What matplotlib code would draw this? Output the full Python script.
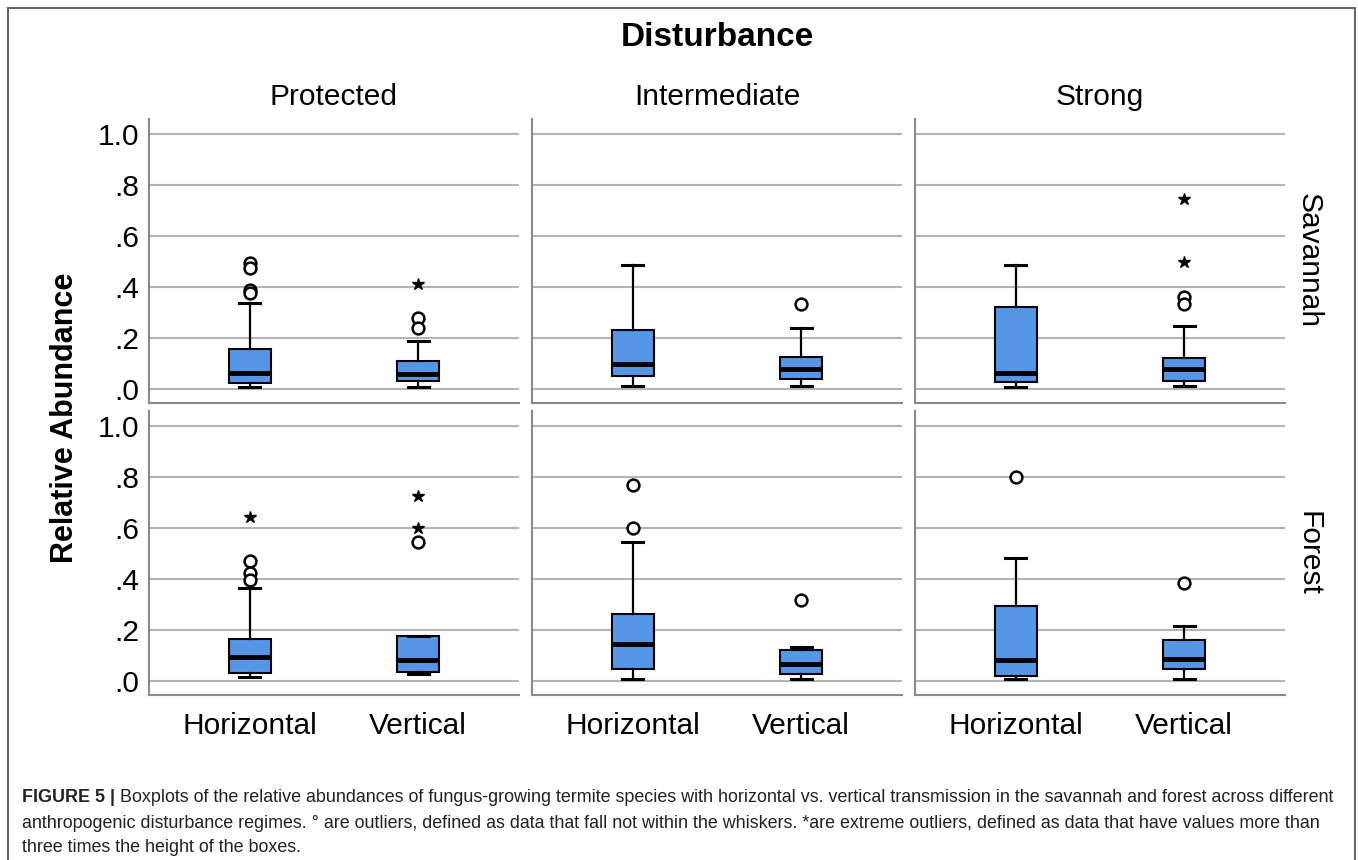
import matplotlib
matplotlib.use('Agg')
import matplotlib.pyplot as plt
from matplotlib.patches import Rectangle

plt.rcParams['font.family'] = ['Liberation Sans', 'DejaVu Sans']

groups = ['Horizontal', 'Vertical']
disturbance = ['Protected', 'Intermediate', 'Strong']
habitats = ['Savannah', 'Forest']

# [habitat][disturbance][group]
whislo = [[[0.005, 0.005], [0.009, 0.012], [0.008, 0.010]],
          [[0.014, 0.026], [0.008, 0.008], [0.007, 0.007]]]
q1 = [[[0.021, 0.030], [0.050, 0.037], [0.025, 0.031]],
      [[0.030, 0.033], [0.046, 0.026], [0.017, 0.046]]]
med = [[[0.063, 0.058], [0.096, 0.076], [0.063, 0.076]],
       [[0.092, 0.083], [0.145, 0.066], [0.080, 0.085]]]
q3 = [[[0.157, 0.110], [0.231, 0.123], [0.320, 0.122]],
      [[0.166, 0.177], [0.262, 0.119], [0.295, 0.160]]]
whishi = [[[0.336, 0.189], [0.488, 0.240], [0.488, 0.248]],
          [[0.363, 0.177], [0.544, 0.132], [0.482, 0.214]]]
# circles: outliers
outliers = [[[[0.495, 0.473, 0.388, 0.377], [0.277, 0.237]], [[], [0.332]], [[], [0.362, 0.332]]],
            [[[0.469, 0.423, 0.397], [0.544]], [[0.600, 0.769], [0.318]], [[0.802], [0.384]]]]
# stars: extreme outliers
extremes = [[[[], [0.412]], [[], []], [[], [0.746, 0.497]]],
            [[[0.645], [0.600, 0.727]], [[], []], [[], []]]]

yticks = [0.0, 0.2, 0.4, 0.6, 0.8, 1.0]
ylabels = ['.0', '.2', '.4', '.6', '.8', '1.0']

box_color = '#5596e6'
grid_color = '#b4b4b4'
spine_color = '#8a8a8a'

W, H = 1358, 860
fig = plt.figure(figsize=(W / 100, H / 100), dpi=100)

col_left = [149, 532, 915]
col_w = 370
row_bottom = [403, 695]
row_h = 284

for r in range(2):
    for c in range(3):
        ax = fig.add_axes([col_left[c] / W, 1 - row_bottom[r] / H, col_w / W, row_h / H])
        stats = []
        for g in range(2):
            stats.append(dict(med=med[r][c][g], q1=q1[r][c][g], q3=q3[r][c][g],
                              whislo=whislo[r][c][g], whishi=whishi[r][c][g],
                              fliers=outliers[r][c][g], label=groups[g]))
        ax.bxp(stats, positions=[1, 2], widths=0.25, patch_artist=True,
               boxprops=dict(facecolor=box_color, edgecolor='black', linewidth=1.5),
               medianprops=dict(color='black', linewidth=3.5),
               whiskerprops=dict(color='black', linewidth=1.6),
               capprops=dict(color='black', linewidth=2.2),
               flierprops=dict(marker='o', markerfacecolor='white', markeredgecolor='black',
                               markersize=8.5, markeredgewidth=1.8),
               zorder=3)
        for g in range(2):
            ex = extremes[r][c][g]
            ax.plot([g + 1] * len(ex), ex, ls='none', marker='*', color='black',
                    markersize=9, zorder=4)
        ax.set_xlim(0.4, 2.6)
        ax.set_ylim(-0.056, 1.06)
        ax.set_yticks(yticks)
        ax.yaxis.grid(True, color=grid_color, linewidth=1.5, zorder=0)
        ax.set_axisbelow(True)
        for s in ['top', 'right']:
            ax.spines[s].set_visible(False)
        for s in ['left', 'bottom']:
            ax.spines[s].set_color(spine_color)
            ax.spines[s].set_linewidth(1.5)
        ax.tick_params(length=0, labelsize=21.5)
        ax.tick_params(axis='y', pad=7)
        ax.tick_params(axis='x', pad=12)
        if c == 0:
            ax.set_yticklabels(ylabels)
        else:
            ax.set_yticklabels([])
        ax.set_xticks([1, 2])
        if r == 1:
            ax.set_xticklabels(groups)
        else:
            ax.set_xticklabels([])
        if r == 0:
            ax.set_title(disturbance[c], fontsize=21.5, pad=10)
        if c == 2:
            ax.text(1.025, 0.5, habitats[r], transform=ax.transAxes, rotation=-90,
                    fontsize=21.5, ha='left', va='center')

fig.text(717 / W, 1 - 38 / H, 'Disturbance', fontsize=24, fontweight='bold',
         ha='center', va='center')
fig.text(65 / W, 1 - 418 / H, 'Relative Abundance', fontsize=22, fontweight='bold',
         rotation=90, ha='center', va='center')

# caption
cap_size = 12.9
cap_color = '#222222'
t0 = fig.text(22 / W, 1 - 797 / H, 'FIGURE 5 |', fontsize=cap_size, fontweight='bold',
              color=cap_color, ha='left', va='center')
plt.annotate(' Boxplots of the relative abundances of fungus-growing termite species with horizontal vs. '
             'vertical transmission in the savannah and forest across different',
             xy=(1, 0), xycoords=t0, va='bottom', ha='left', fontsize=cap_size,
             color=cap_color, annotation_clip=False)
fig.text(22 / W, 1 - 823 / H,
         'anthropogenic disturbance regimes. \u00b0 are outliers, defined as data that fall not within '
         'the whiskers. *are extreme outliers, defined as data that have values more than',
         fontsize=cap_size, color=cap_color, ha='left', va='center')
fig.text(22 / W, 1 - 848 / H, 'three times the height of the boxes.',
         fontsize=cap_size, color=cap_color, ha='left', va='center')

fig.patches.append(Rectangle((8 / W, -0.05), (1355 - 8) / W, 1.05 - 8 / H, transform=fig.transFigure,
                             fill=False, edgecolor='#666666', linewidth=1.5))

fig.savefig('out.png', dpi=100)
